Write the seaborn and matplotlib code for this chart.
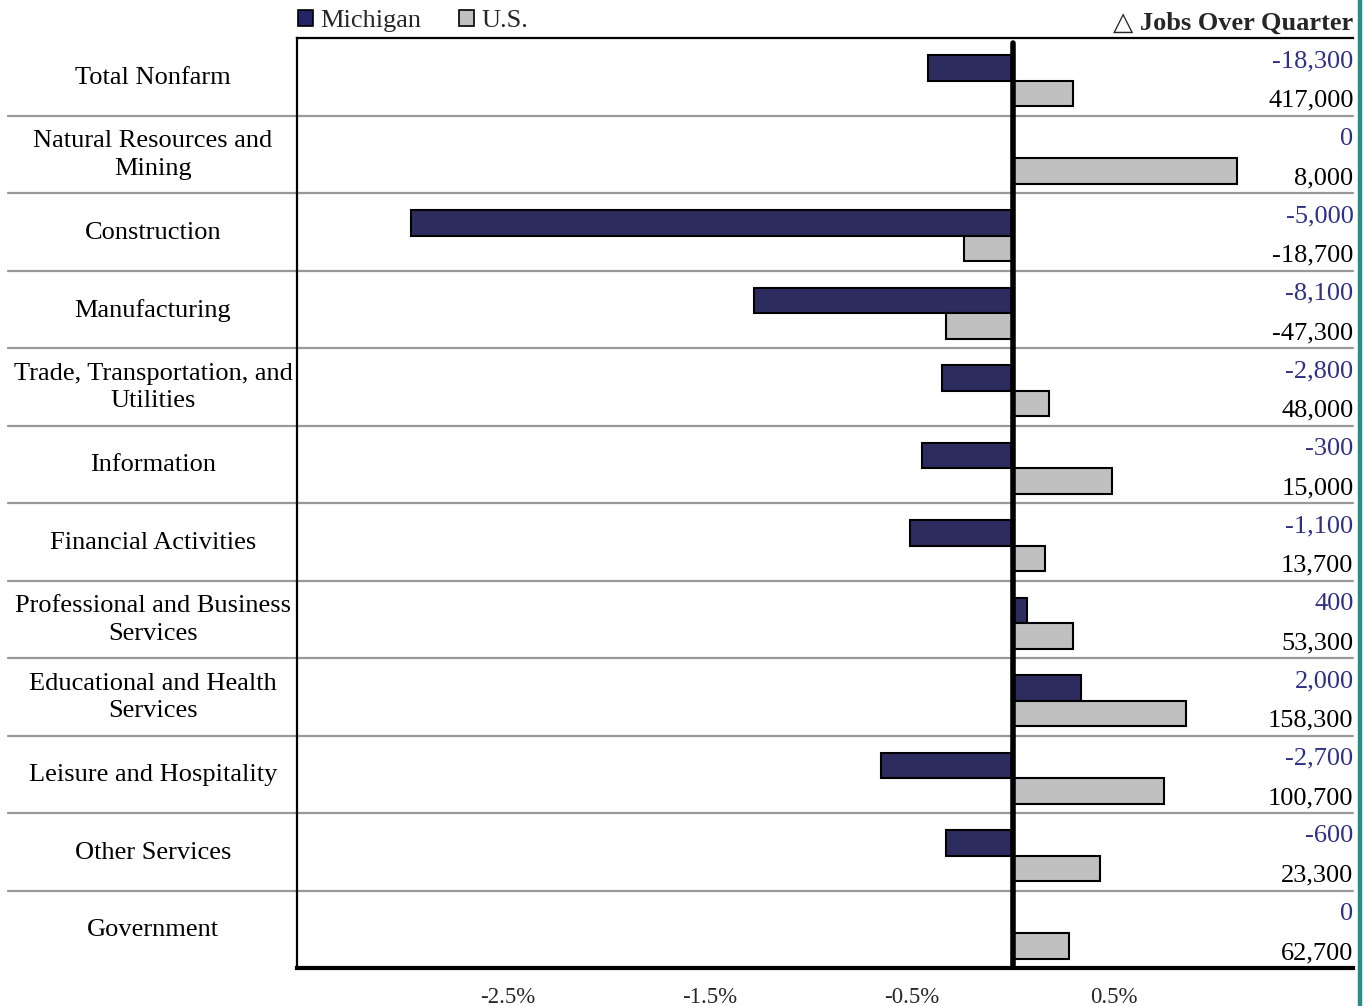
import matplotlib
matplotlib.use("Agg")
import matplotlib.pyplot as plt
from matplotlib.patches import Patch
from matplotlib.lines import Line2D
import matplotlib.transforms as mtransforms
import pandas as pd
import seaborn as sns

# Industries, top to bottom
categories = [
    "Total Nonfarm",
    "Natural Resources and\nMining",
    "Construction",
    "Manufacturing",
    "Trade, Transportation, and\nUtilities",
    "Information",
    "Financial Activities",
    "Professional and Business\nServices",
    "Educational and Health\nServices",
    "Leisure and Hospitality",
    "Other Services",
    "Government",
]

# Percent change over the quarter
michigan_pct = [-0.42, 0.0, -2.98, -1.28, -0.35, -0.45, -0.51, 0.07, 0.34, -0.65, -0.33, 0.0]
us_pct = [0.30, 1.11, -0.24, -0.33, 0.18, 0.49, 0.16, 0.30, 0.86, 0.75, 0.43, 0.28]

# Jobs gained/lost over the quarter
michigan_jobs = [-18300, 0, -5000, -8100, -2800, -300, -1100, 400, 2000, -2700, -600, 0]
us_jobs = [417000, 8000, -18700, -47300, 48000, 15000, 13700, 53300, 158300, 100700, 23300, 62700]

series_names = ["Michigan", "U.S."]
tick_values = [-2.5, -1.5, -0.5, 0.5]
tick_labels = ["-2.5%", "-1.5%", "-0.5%", "0.5%"]

NAVY = "#252466"
GRAY = "#c0c0c0"
LABEL_BLUE = "#2e2f85"

sns.set_theme(style="white")
FAMILY = ["Liberation Serif", "DejaVu Sans"]
plt.rcParams["font.family"] = FAMILY
FS = 19

df = pd.DataFrame({
    "category": categories * 2,
    "pct": michigan_pct + us_pct,
    "area": [series_names[0]] * len(categories) + [series_names[1]] * len(categories),
})

fig = plt.figure(figsize=(13.64, 10.06), dpi=100)
ax = fig.add_axes([297 / 1364, 1 - 968 / 1006, (1353 - 297) / 1364, (968 - 38) / 1006])

sns.barplot(
    data=df, x="pct", y="category", hue="area", orient="h",
    palette={series_names[0]: NAVY, series_names[1]: GRAY},
    width=0.66, edgecolor="black", linewidth=1.5, legend=False, ax=ax,
    order=categories, hue_order=series_names,
)

# nudge the bar pairs slightly below the row centre
for patch in ax.patches:
    patch.set_y(patch.get_y() + 0.05)

n = len(categories)
ax.set_xlim(-3.543, 1.685)
ax.set_ylim(n - 0.5, -0.5)
ax.set_xlabel("")
ax.set_ylabel("")

# zero reference line
ax.axvline(0, ymin=0, ymax=0.995, color="black", lw=4, solid_capstyle="round", zorder=5)

# spines
for side in ["top", "left"]:
    ax.spines[side].set_color("black")
    ax.spines[side].set_linewidth(1.6)
ax.spines["bottom"].set_color("black")
ax.spines["bottom"].set_linewidth(3)
ax.spines["right"].set_visible(False)

ax.set_xticks(tick_values)
ax.set_xticklabels(tick_labels, fontsize=16.5, fontfamily="Liberation Serif")
ax.tick_params(axis="x", length=0, pad=14)
ax.set_yticks([])

blend = mtransforms.blended_transform_factory(ax.transAxes, ax.transData)

# row separators, running under the category labels
for i in range(n - 1):
    ax.plot([-0.2737, 1.0], [i + 0.5, i + 0.5], transform=blend, color="#999999",
            lw=1.6, clip_on=False, zorder=1)

# category labels
for i, name in enumerate(categories):
    ax.text(-0.1364, i + 0.01, name, transform=blend, ha="center", va="center",
            fontsize=FS, linespacing=1.32, color="black", fontfamily="Liberation Serif")

# job change labels at the right edge
for i, (mj, uj) in enumerate(zip(michigan_jobs, us_jobs)):
    ax.text(1.0005, i - 0.20, f"{mj:,}", transform=blend, ha="right", va="center",
            fontsize=FS, color=LABEL_BLUE, fontfamily="Liberation Serif")
    ax.text(1.0005, i + 0.31, f"{uj:,}", transform=blend, ha="right", va="center",
            fontsize=FS, color="black", fontfamily="Liberation Serif")

# legend above the top-left corner
handles = [Patch(facecolor=NAVY, edgecolor="black", lw=1.2),
           Patch(facecolor=GRAY, edgecolor="black", lw=1.2)]
leg = fig.legend(handles, series_names, loc="center left",
                 bbox_to_anchor=(298 / 1364, 1 - 21 / 1006), ncol=2, frameon=False,
                 fontsize=FS, handlelength=0.58, handleheight=0.58, handletextpad=0.25,
                 columnspacing=1.45, borderpad=0, borderaxespad=0)
for t in leg.get_texts():
    t.set_fontfamily("Liberation Serif")

fig.text(1353 / 1364, 1 - 23 / 1006, "\u25b3 Jobs Over Quarter", ha="right", va="center",
         fontsize=FS, fontweight="bold", fontfamily=FAMILY)

# accent rule along the right edge
fig.add_artist(Line2D([1359.5 / 1364, 1359.5 / 1364], [0, 1], transform=fig.transFigure,
                      color="#2a8c86", lw=3.2))

fig.savefig("out.png", dpi=100, facecolor="white")
